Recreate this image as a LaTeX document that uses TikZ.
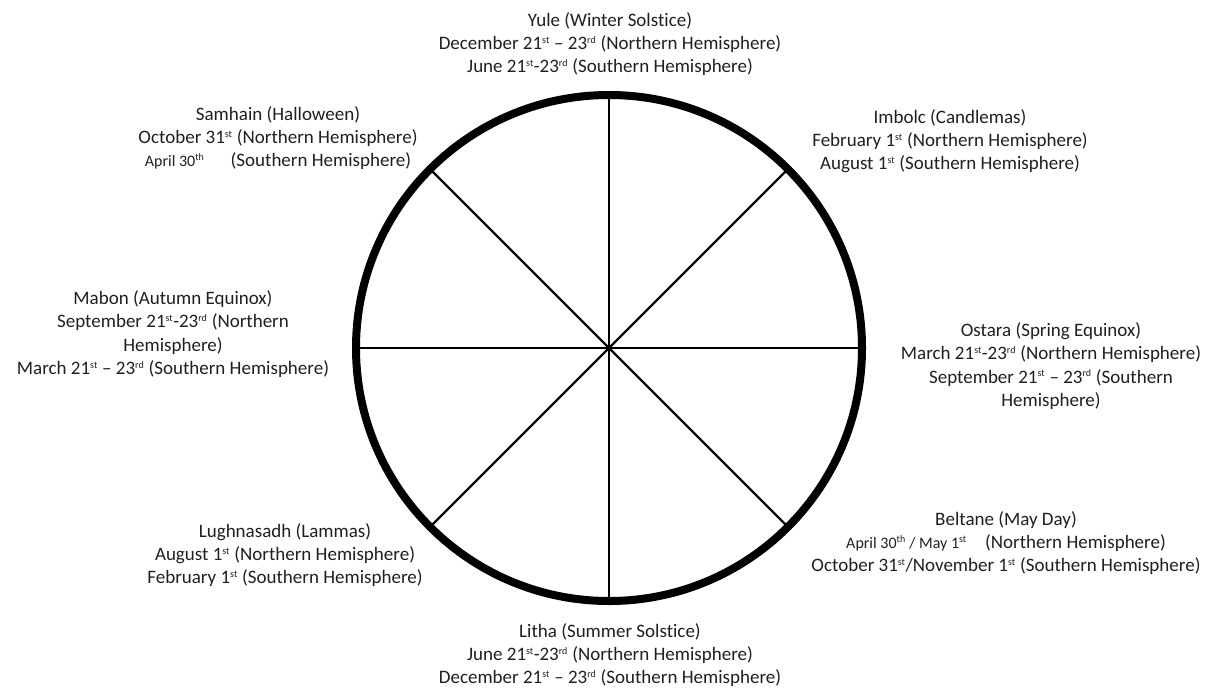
\documentclass[tikz,border=0pt]{standalone}
\usepackage{fontspec}
\setmainfont{Carlito}[Ligatures=NoCommon]
\usetikzlibrary{positioning}

\tikzset{
  sabbat/.style={align=center, inner sep=0pt, text=black!88,
    font=\fontsize{19}{23.3}\selectfont},
  spoke/.style={line width=2.2pt}
}
\newcommand{\sth}[1]{\textsuperscript{\fontsize{10}{10}\selectfont #1}}
\newcommand{\smalldate}[1]{{\fontsize{16}{16}\selectfont #1}}

\begin{document}
\begin{tikzpicture}[x=1pt,y=-1pt]
\useasboundingbox (0,0) rectangle (1215,691);

% the wheel
\coordinate (hub) at (609,348);
\node[circle, draw, line width=8pt, minimum size=506pt, inner sep=0pt] (wheel) at (hub) {};
\foreach \a in {0,45,...,315}
  \draw[spoke] (hub) -- (wheel.\a);

% the eight sabbats
\node[sabbat] (yule) at (610,44) {Yule (Winter Solstice)\\
  December 21\sth{st} -- 23\sth{rd} (Northern Hemisphere)\\
  June 21\sth{st}-23\sth{rd} (Southern Hemisphere)};
\node[sabbat] (imbolc) at (950,141) {Imbolc (Candlemas)\\
  February 1\sth{st} (Northern Hemisphere)\\
  August 1\sth{st} (Southern Hemisphere)};
\node[sabbat] (ostara) at (1051,366) {Ostara (Spring Equinox)\\
  March 21\sth{st}-23\sth{rd} (Northern Hemisphere)\\
  September 21\sth{st} -- 23\sth{rd} (Southern\\
  Hemisphere)};
\node[sabbat] (beltane) at (1006,543) {Beltane (May Day)\\
  \smalldate{April 30\sth{th} / May 1\sth{st}}\hspace{14pt} (Northern Hemisphere)\\
  October 31\sth{st}/November 1\sth{st} (Southern Hemisphere)};
\node[sabbat] (litha) at (610,655) {Litha (Summer Solstice)\\
  June 21\sth{st}-23\sth{rd} (Northern Hemisphere)\\
  December 21\sth{st} -- 23\sth{rd} (Southern Hemisphere)};
\node[sabbat] (lughnasadh) at (285,555) {Lughnasadh (Lammas)\\
  August 1\sth{st} (Northern Hemisphere)\\
  February 1\sth{st} (Southern Hemisphere)};
\node[sabbat] (mabon) at (173,334) {Mabon (Autumn Equinox)\\
  September 21\sth{st}-23\sth{rd} (Northern\\
  Hemisphere)\\
  March 21\sth{st} -- 23\sth{rd} (Southern Hemisphere)};
\node[sabbat] (samhain) at (278,138) {Samhain (Halloween)\\
  October 31\sth{st} (Northern Hemisphere)\\
  \smalldate{April 30\sth{th}}\hspace{22pt} (Southern Hemisphere)};
\end{tikzpicture}
\end{document}
